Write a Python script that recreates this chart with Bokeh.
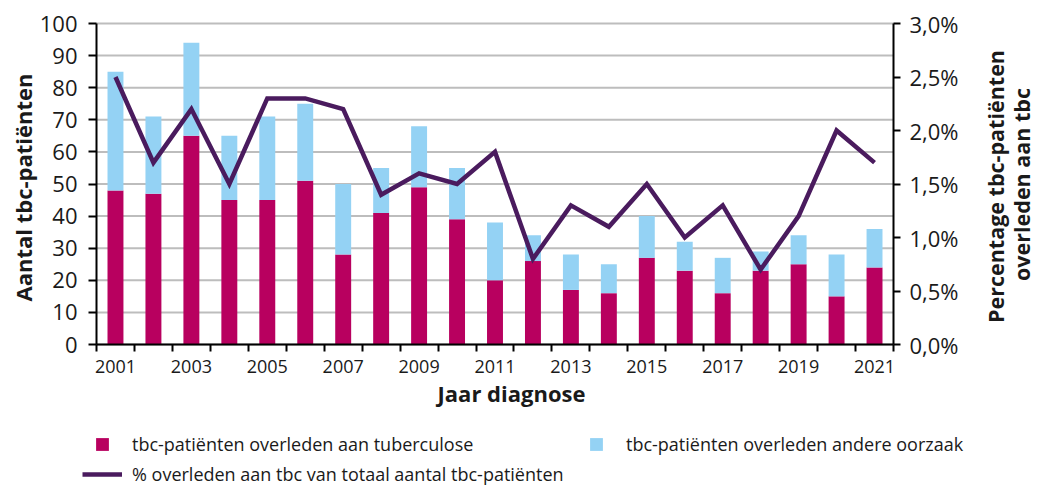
import math
from bokeh.plotting import figure
from bokeh.models import (Range1d, LinearAxis, FixedTicker, Legend, LegendItem,
                          ColumnDataSource, Label)
from bokeh.embed import file_html
from bokeh.resources import INLINE

# ---------------- data ----------------
years = [2001, 2002, 2003, 2004, 2005, 2006, 2007, 2008, 2009, 2010, 2011,
         2012, 2013, 2014, 2015, 2016, 2017, 2018, 2019, 2020, 2021]
died_tb = [48, 47, 65, 45, 45, 51, 28, 41, 49, 39, 20, 26, 17, 16, 27, 23, 16, 23, 25, 15, 24]
died_other = [37, 24, 29, 20, 26, 24, 22, 14, 19, 16, 18, 8, 11, 9, 13, 9, 11, 6, 9, 13, 12]
pct_tb = [2.5, 1.7, 2.2, 1.5, 2.3, 2.3, 2.2, 1.4, 1.6, 1.5, 1.8, 0.8, 1.3, 1.1, 1.5, 1.0, 1.3, 0.7, 1.2, 2.0, 1.7]

x_tick_years = [2001, 2003, 2005, 2007, 2009, 2011, 2013, 2015, 2017, 2019, 2021]
x_tick_labels = ["2001", "2003", "2005", "2007", "2009", "2011", "2013", "2015", "2017", "2019", "2021"]
left_ticks = [0, 10, 20, 30, 40, 50, 60, 70, 80, 90, 100]
pct_ticks = [0.0, 0.5, 1.0, 1.5, 2.0, 2.5, 3.0]
pct_labels = ["0,0%", "0,5%", "1,0%", "1,5%", "2,0%", "2,5%", "3,0%"]

label_tb = "tbc-patiënten overleden aan tuberculose"
label_other = "tbc-patiënten overleden andere oorzaak"
label_pct = "% overleden aan tbc van totaal aantal tbc-patiënten"
title_x = "Jaar diagnose"
title_left = "Aantal tbc-patiënten"
title_right_1 = "Percentage tbc-patiënten"
title_right_2 = "overleden aan tbc"

# ---------------- style / layout ----------------
FONT = "Open Sans"
RED = "#b8005f"
BLUE = "#94d2f4"
PURPLE = "#4a1b5e"
TXT = "#1a1a1a"
GRID = "#bdbdbd"

W, H = 1037, 487
FL, FR, FT, FB = 96, 893, 23, 344   # plot-area edges in pixels

x0 = years[0] - 0.5
x1 = years[-1] + 0.5
ppx = (FR - FL) / (x1 - x0)
x_lo = x0 - FL / ppx
x_hi = x1 + (W - FR) / ppx

ymax = left_ticks[-1]
ppy = (FB - FT) / ymax
y_lo = -(H - FB) / ppy
y_hi = ymax + FT / ppy

pmax = pct_ticks[-1]
ppp = (FB - FT) / pmax
p_lo = -(H - FB) / ppp
p_hi = pmax + FT / ppp

src = ColumnDataSource(dict(year=years, tb=died_tb, other=died_other, pct=pct_tb))

p = figure(width=W, height=H, output_backend="svg", toolbar_location=None,
           x_range=Range1d(x_lo, x_hi), y_range=Range1d(y_lo, y_hi),
           x_axis_location=None, y_axis_location=None,
           min_border=0, min_border_left=0, min_border_right=0,
           min_border_top=0, min_border_bottom=0)
p.extra_y_ranges = {"pct": Range1d(p_lo, p_hi)}
p.outline_line_color = None
p.grid.visible = False
p.background_fill_color = "white"
p.border_fill_color = "white"

# horizontal grid lines at the left-axis ticks
p.segment(x0=[x0] * len(left_ticks), x1=[x1] * len(left_ticks),
          y0=left_ticks, y1=left_ticks, line_color=GRID, line_width=2)

bars = p.vbar_stack(["tb", "other"], x="year", width=0.42, source=src,
                    color=[RED, BLUE], line_color=None)
ln = p.line("year", "pct", source=src, y_range_name="pct", line_width=4.5,
            color=PURPLE, line_join="miter")

# ---------------- axes ----------------
xa = LinearAxis(fixed_location=0, bounds=(x0, x1),
                ticker=FixedTicker(ticks=x_tick_years,
                                   minor_ticks=[y - 0.5 for y in years] + [x1]))
xa.major_label_overrides = {y: l for y, l in zip(x_tick_years, x_tick_labels)}
xa.major_tick_line_color = None
xa.major_tick_out = 7
xa.major_tick_in = 0
xa.minor_tick_out = 7
xa.minor_tick_in = 0
xa.minor_tick_line_color = "black"
xa.minor_tick_line_width = 2
xa.axis_line_color = "black"
xa.axis_line_width = 2
xa.major_label_text_font = FONT
xa.major_label_text_font_size = "18px"
xa.major_label_text_color = TXT
xa.major_label_standoff = 8
p.add_layout(xa, "below")

ya = LinearAxis(fixed_location=x0, bounds=(0, ymax), ticker=FixedTicker(ticks=left_ticks))
ya.major_tick_out = 8
ya.major_tick_in = 0
ya.major_tick_line_width = 2
ya.minor_tick_line_color = None
ya.axis_line_width = 2
ya.major_label_text_font = FONT
ya.major_label_text_font_size = "22px"
ya.major_label_text_color = TXT
ya.major_label_standoff = 11
p.add_layout(ya, "left")

ra = LinearAxis(y_range_name="pct", fixed_location=x1, bounds=(0, pmax),
                ticker=FixedTicker(ticks=pct_ticks))
ra.major_label_overrides = {t: l for t, l in zip(pct_ticks, pct_labels)}
ra.major_tick_out = 7
ra.major_tick_in = 0
ra.major_tick_line_width = 2
ra.minor_tick_line_color = None
ra.axis_line_width = 2
ra.major_label_text_font = FONT
ra.major_label_text_font_size = "22px"
ra.major_label_text_color = TXT
ra.major_label_standoff = 9
p.add_layout(ra, "right")

# ---------------- axis titles ----------------
tstyle = dict(x_units="screen", y_units="screen", text_font=FONT,
              text_font_style="bold", text_color=TXT)
p.add_layout(Label(x=511, y=H - 392, text=title_x, text_align="center",
                   text_baseline="alphabetic", text_font_size="22px", **tstyle))
p.add_layout(Label(x=22, y=H - 187, text=title_left, angle=math.pi / 2,
                   text_align="center", text_baseline="middle",
                   text_font_size="22px", **tstyle))
p.add_layout(Label(x=995, y=H - 186, text=title_right_1, angle=math.pi / 2,
                   text_align="center", text_baseline="middle",
                   text_font_size="21.5px", **tstyle))
p.add_layout(Label(x=1021, y=H - 184, text=title_right_2, angle=math.pi / 2,
                   text_align="center", text_baseline="middle",
                   text_font_size="21.5px", **tstyle))

# ---------------- legends ----------------
common = dict(spacing=0, padding=0, margin=0, border_line_color=None,
              background_fill_alpha=0, label_text_font=FONT,
              label_text_font_size="18px", label_text_color=TXT)
leg1 = Legend(items=[LegendItem(label=label_tb, renderers=[bars[0]]),
                     LegendItem(label=label_other, renderers=[bars[1]])],
              orientation="horizontal", location=(94, H - 456),
              glyph_width=16, glyph_height=16, label_height=16, label_width=456,
              label_standoff=22, **common)
leg2 = Legend(items=[LegendItem(label=label_pct, renderers=[ln])],
              location=(82, H - 486),
              glyph_width=40, glyph_height=16, label_height=16,
              label_standoff=10, **common)
p.add_layout(leg1, "center")
p.add_layout(leg2, "center")

open("out.html", "w").write(file_html(p, INLINE))
